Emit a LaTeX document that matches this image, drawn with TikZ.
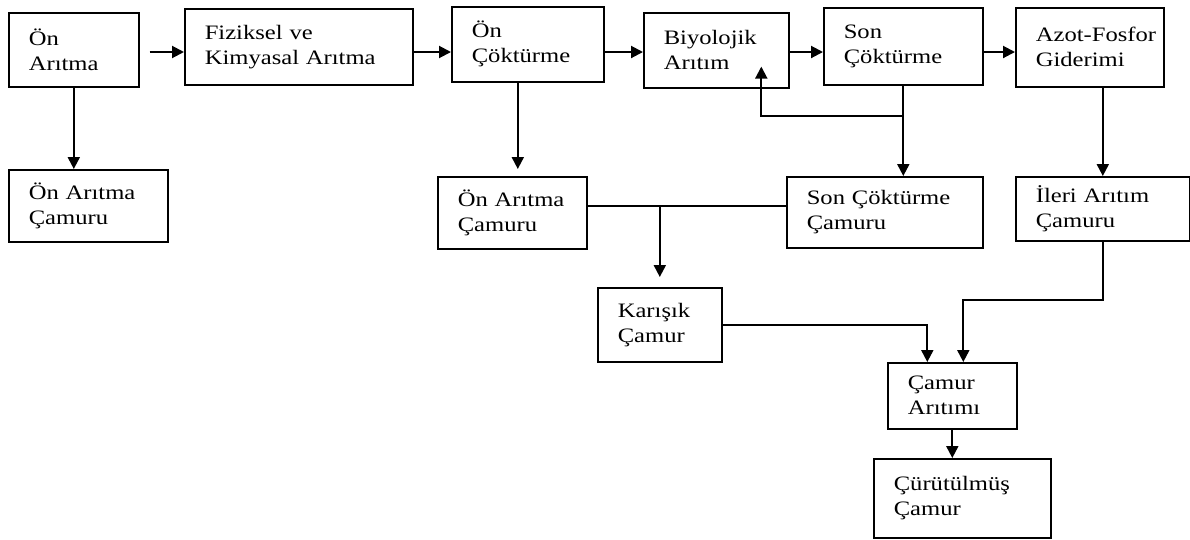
\documentclass[tikz,border=0pt]{standalone}
\usepackage{fontspec}
\setmainfont{Liberation Serif}[FakeStretch=1.2]
\usetikzlibrary{arrows.meta, positioning}

\begin{document}
\begin{tikzpicture}[x=1pt, y=-1pt,
  block/.style={rectangle, draw=black, line width=1.6pt, anchor=north west, inner xsep=20pt, align=left, font=\fontsize{20.5pt}{25pt}\selectfont},
  arrow/.style={draw=black, line width=2pt, -{Triangle[length=12pt,width=12pt]}},
  link/.style={draw=black, line width=2pt}]

  \useasboundingbox (0,0) rectangle (1190,539);
  \coordinate (r) at (0,52);
  \coordinate (fb) at (0,116);
  \coordinate (mix) at (0,206);
  \coordinate (jn) at (0,300);

  \node [block, text width=90pt, minimum height=74pt] (onaritma) at (8,12) {Ön\\Arıtma};
  \node [block, text width=188pt, minimum height=76pt] (fiziksel) at (184,8) {Fiziksel ve\\Kimyasal Arıtma};
  \node [block, text width=112pt, minimum height=75pt] (oncok) at (451,6) {Ön\\Çöktürme};
  \node [block, text width=105pt, minimum height=75pt] (biyo) at (643,12) {Biyolojik\\Arıtım};
  \node [block, text width=119pt, minimum height=77pt] (soncok) at (823,7) {Son\\Çöktürme};
  \node [block, text width=108pt, minimum height=79pt] (azot) at (1015,7) {\mbox{Azot-Fosfor}\\Giderimi};

  \node [block, text width=119pt, minimum height=72pt] (oncamur1) at (8,169) {Ön Arıtma\\Çamuru};
  \node [block, text width=109pt, minimum height=72pt] (oncamur2) at (437,176) {Ön Arıtma\\Çamuru};
  \node [block, text width=156pt, minimum height=71pt] (soncamur) at (786,176) {Son Çöktürme\\Çamuru};
  \node [block, text width=134pt, minimum height=64pt] (ileri) at (1015,176) {İleri Arıtım\\Çamuru};
  \node [block, text width=84pt, minimum height=74pt] (karisik) at (597,287) {Karışık\\Çamur};
  \node [block, text width=89pt, minimum height=66pt] (camurar) at (887,362) {Çamur\\Arıtımı};
  \node [block, text width=137pt, minimum height=79pt] (curut) at (873,458) {Çürütülmüş\\Çamur};

  \draw [arrow] ([xshift=10pt]onaritma.east |- r) -- (fiziksel.west |- r);
  \draw [arrow] (fiziksel.east |- r) -- (oncok.west |- r);
  \draw [arrow] (oncok.east |- r) -- (biyo.west |- r);
  \draw [arrow] (biyo.east |- r) -- (soncok.west |- r);
  \draw [arrow] (soncok.east |- r) -- (azot.west |- r);

  \draw [arrow] (onaritma.south) -- (onaritma.south |- oncamur1.north);
  \draw [arrow, shorten >=7pt] ([xshift=-10pt]oncok.south) -- ([xshift=-10pt]oncok.south |- oncamur2.north);
  \draw [arrow] (soncok.south) -- (soncok.south |- soncamur.north);
  \draw [arrow] (soncok.south |- fb) -| ([shift={(45pt,22pt)}]biyo.south);
  \draw [arrow] (azot.south -| ileri.south) -- (ileri.north);

  \draw [link] (oncamur2.east |- mix) -- (soncamur.west |- mix);
  \draw [arrow, shorten >=10pt] (karisik.north |- mix) -- (karisik.north);
  \draw [arrow] (karisik.east) -| ([xshift=-25pt]camurar.north);
  \draw [arrow] (ileri.south) -- (ileri.south |- jn) -| ([xshift=11pt]camurar.north);
  \draw [arrow] (camurar.south) -- (curut.north -| camurar.south);
\end{tikzpicture}
\end{document}
